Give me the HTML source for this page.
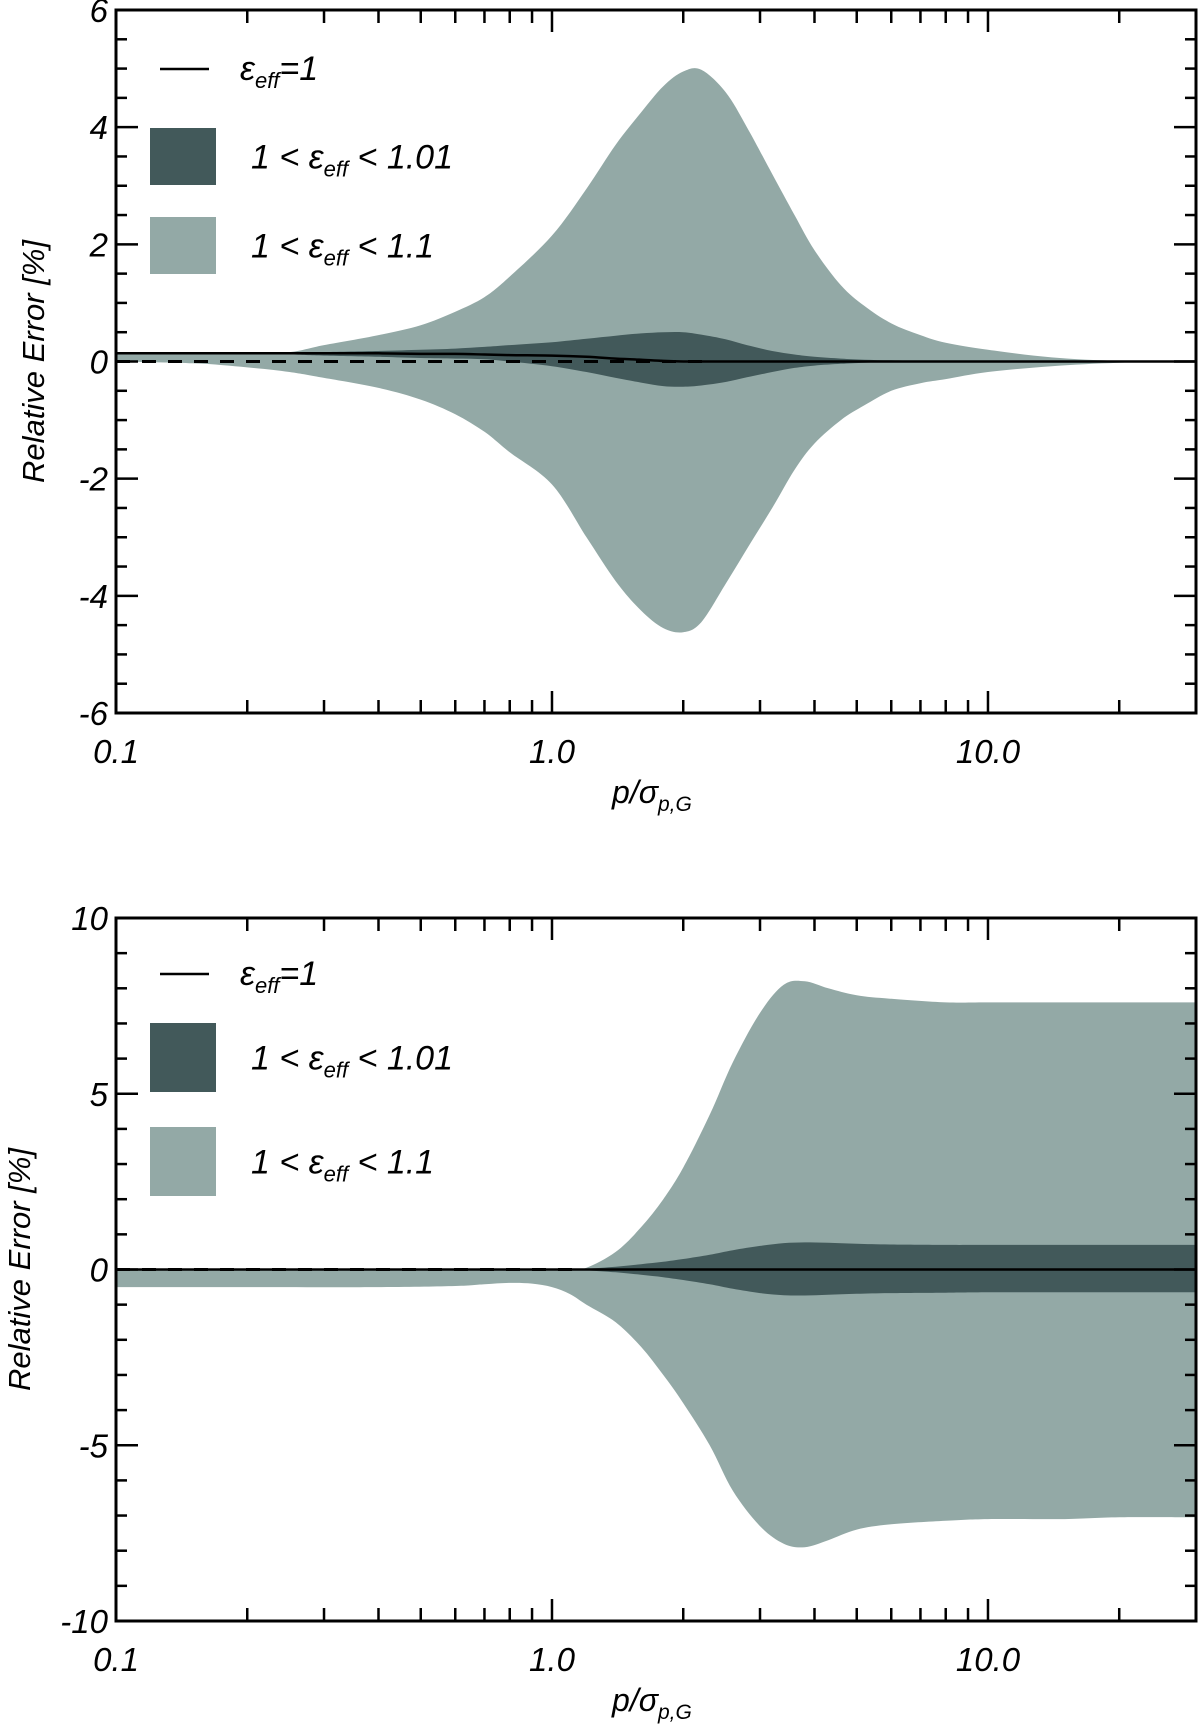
<!DOCTYPE html>
<html><head><meta charset="utf-8"><style>
body{margin:0;background:#fff}
svg{display:block}
text{font-family:"Liberation Sans",sans-serif;font-style:italic;fill:#000}
</style></head><body>
<svg id="chart" width="1200" height="1728" xmlns="http://www.w3.org/2000/svg"></svg>
<script>
// ---- data: top panel ----
const xTop = [0.1,0.15,0.2,0.25,0.3,0.4,0.5,0.6,0.7,0.8,1.0,1.2,1.4,1.6,1.8,2.0,2.2,2.5,2.8,3.2,3.6,4.0,4.6,5.2,6,7,8,10,14,20,30];
const topLightUp = [0.14,0.14,0.14,0.16,0.28,0.45,0.62,0.85,1.1,1.45,2.15,2.95,3.7,4.25,4.7,4.95,4.98,4.6,4.0,3.2,2.5,1.9,1.3,0.95,0.65,0.45,0.32,0.2,0.07,0.01,0.0];
const topLightLo = [0,-0.03,-0.1,-0.18,-0.28,-0.45,-0.65,-0.9,-1.2,-1.55,-2.1,-3.0,-3.75,-4.25,-4.55,-4.62,-4.45,-3.8,-3.2,-2.5,-1.85,-1.4,-1.0,-0.75,-0.5,-0.37,-0.3,-0.18,-0.08,-0.02,0.0];
const topDarkUp = [0.14,0.14,0.14,0.15,0.16,0.18,0.2,0.22,0.25,0.28,0.33,0.39,0.44,0.48,0.5,0.5,0.46,0.38,0.28,0.18,0.12,0.08,0.05,0.03,0.02,0.01,0,0,0,0,0];
const topDarkLo = [0.14,0.14,0.13,0.12,0.1,0.08,0.06,0.05,0.04,0.0,-0.08,-0.18,-0.28,-0.36,-0.42,-0.43,-0.41,-0.35,-0.27,-0.18,-0.11,-0.07,-0.04,-0.02,-0.01,0,0,0,0,0,0];
const topLine = [0.14,0.14,0.14,0.14,0.14,0.14,0.13,0.13,0.12,0.11,0.1,0.08,0.05,0.03,0.01,0,0,0,0,0,0,0,0,0,0,0,0,0,0,0,0];
// ---- data: bottom panel ----
const xBot = [0.1,0.2,0.4,0.6,0.7,0.8,0.9,1.0,1.1,1.2,1.4,1.6,1.8,2.0,2.3,2.6,3.0,3.4,3.8,4.3,5,6,8,10,15,20,30];
const botLightUp = [0,0,0,0,0,0,0,0,0,0.05,0.5,1.2,2.0,2.9,4.4,5.9,7.3,8.1,8.2,8.0,7.8,7.7,7.6,7.6,7.6,7.6,7.6];
const botLightLo = [-0.5,-0.5,-0.5,-0.47,-0.42,-0.38,-0.4,-0.5,-0.7,-1.0,-1.5,-2.2,-3.0,-3.8,-5.0,-6.3,-7.3,-7.8,-7.9,-7.7,-7.4,-7.25,-7.15,-7.1,-7.1,-7.05,-7.05];
const botDarkUp = [0,0,0,0,0,0,0,0,0,0.02,0.08,0.15,0.22,0.3,0.42,0.55,0.67,0.75,0.77,0.76,0.73,0.71,0.7,0.7,0.7,0.7,0.7];
const botDarkLo = [0,0,0,0,0,0,0,0,0,-0.02,-0.08,-0.15,-0.22,-0.3,-0.42,-0.55,-0.67,-0.73,-0.74,-0.72,-0.69,-0.67,-0.66,-0.65,-0.65,-0.65,-0.65];
const xTickLabels = ["0.1","1.0","10.0"];
const xTickValues = [0.1,1,10];
const topYTicks = [-6,-4,-2,0,2,4,6];
const botYTicks = [-10,-5,0,5,10];

const NS="http://www.w3.org/2000/svg";
const svg=document.getElementById('chart');
function el(tag,attrs,parent){const e=document.createElementNS(NS,tag);for(const k in attrs)e.setAttribute(k,attrs[k]);(parent||svg).appendChild(e);return e;}
const L=116,R=1196,XMIN=0.1,XMAX=30;
function xs(v){return L+(Math.log10(v)-Math.log10(XMIN))/(Math.log10(XMAX)-Math.log10(XMIN))*(R-L);}
function smooth(pts){
  let d='';
  for(let i=0;i<pts.length-1;i++){
    const p0=pts[Math.max(i-1,0)],p1=pts[i],p2=pts[i+1],p3=pts[Math.min(i+2,pts.length-1)];
    const c1=[p1[0]+(p2[0]-p0[0])/6,p1[1]+(p2[1]-p0[1])/6];
    const c2=[p2[0]-(p3[0]-p1[0])/6,p2[1]-(p3[1]-p1[1])/6];
    d+=` C${c1[0].toFixed(1)},${c1[1].toFixed(1)} ${c2[0].toFixed(1)},${c2[1].toFixed(1)} ${p2[0].toFixed(1)},${p2[1].toFixed(1)}`;
  }
  return d;
}

function panel(name,top,bot,ymin,ymax,minorStep,yTicks,bands,line,dashEnd,legendY){
  const g=el('g',{});
  
  
  const ys=v=>bot-(v-ymin)/(ymax-ymin)*(bot-top);
  const cols=['#93a9a6','#42595a'];
  bands.forEach((b,i)=>{
    const xsArr=b[0],up=b[1],lo=b[2];
    const upP=xsArr.map((x,j)=>[xs(x),ys(up[j])]);
    const loP=xsArr.map((x,j)=>[xs(x),ys(lo[j])]).reverse();
    const d=`M${upP[0][0]},${upP[0][1]}`+smooth(upP)+` L${loP[0][0]},${loP[0][1]}`+smooth(loP)+' Z';
    const p=el('path',{d:d,fill:cols[i]},g);
    
    
  });
  const dl=el('line',{x1:L,x2:xs(dashEnd),y1:ys(0),y2:ys(0),stroke:'#000','stroke-width':3,'stroke-dasharray':'14,12'},g);
  
  
  const lpts=line[0].map((x,j)=>[xs(x),ys(line[1][j])]);
  const pl=el('path',{d:`M${lpts[0][0]},${lpts[0][1]}`+smooth(lpts),fill:'none',stroke:'#000','stroke-width':2.5},g);
  
  
  const fr=el('rect',{x:L,y:top,width:R-L,height:bot-top,fill:'none',stroke:'#000','stroke-width':3},g);
  
  
  for(let v=ymin;v<=ymax+1e-9;v+=minorStep){
    const major=yTicks.some(t=>Math.abs(t-v)<1e-9);const len=major?22:11;
    el('line',{x1:L,x2:L+len,y1:ys(v),y2:ys(v),stroke:'#000','stroke-width':2.5},g);
    el('line',{x1:R,x2:R-len,y1:ys(v),y2:ys(v),stroke:'#000','stroke-width':2.5},g);
  }
  yTicks.forEach(t=>{const tx=el('text',{x:L-8,y:ys(t)+12,'text-anchor':'end','font-size':33},g);tx.textContent=t;
    
    });
  for(let d=0.1;d<XMAX;d*=10){for(let m=1;m<10;m++){const v=d*m;if(v>XMAX+1e-9)break;const len=m==1?22:13;
    el('line',{x1:xs(v),x2:xs(v),y1:bot,y2:bot-len,stroke:'#000','stroke-width':2.5},g);
    el('line',{x1:xs(v),x2:xs(v),y1:top,y2:top+len,stroke:'#000','stroke-width':2.5},g);}}
  xTickValues.forEach((v,i)=>{const tx=el('text',{x:xs(v),y:bot+50,'text-anchor':'middle','font-size':33},g);tx.textContent=xTickLabels[i];
    
    });
  const xt=el('text',{x:612,y:bot+90,'text-anchor':'start','font-size':32},g);
  xt.innerHTML='p/σ<tspan font-size="21" dy="8">p,G</tspan>';
  
  
  const cy=(top+bot)/2;
  const yt=el('text',{x:0,y:0,'text-anchor':'middle','font-size':31,transform:`translate(${name=='top-panel'?44:30},${cy}) rotate(-90)`},g);
  yt.textContent='Relative Error [%]';
  
  
  const lg=el('g',{},g);
  
  
  el('line',{x1:160,x2:209,y1:legendY[0],y2:legendY[0],stroke:'#000','stroke-width':2.5},lg);
  const t1=el('text',{x:240,y:legendY[0]+11,'font-size':34},lg);
  t1.innerHTML='ε<tspan font-size="22" dy="8">eff</tspan><tspan dy="-8">=1</tspan>';
  el('rect',{x:150,y:legendY[1],width:66,height:legendY[3],fill:'#42595a'},lg);
  const t2=el('text',{x:251,y:legendY[1]+legendY[3]/2+12,'font-size':34},lg);
  t2.innerHTML='1 &lt; ε<tspan font-size="22" dy="8">eff</tspan><tspan dy="-8"> &lt; 1.01</tspan>';
  el('rect',{x:150,y:legendY[2],width:66,height:legendY[3],fill:'#93a9a6'},lg);
  const t3=el('text',{x:251,y:legendY[2]+legendY[3]/2+12,'font-size':34},lg);
  t3.innerHTML='1 &lt; ε<tspan font-size="22" dy="8">eff</tspan><tspan dy="-8"> &lt; 1.1</tspan>';
}
panel('top-panel',10,713,-6,6,0.5,topYTicks,
  [[xTop,topLightUp,topLightLo],[xTop,topDarkUp,topDarkLo]],[xTop,topLine],2.3,[69,128,217,57]);
const botZero=xBot.map(()=>0);
panel('bottom-panel',918,1621,-10,10,1,botYTicks,
  [[xBot,botLightUp,botLightLo],[xBot,botDarkUp,botDarkLo]],[xBot,botZero],1.15,[974,1023,1127,69]);
</script>
</body></html>
